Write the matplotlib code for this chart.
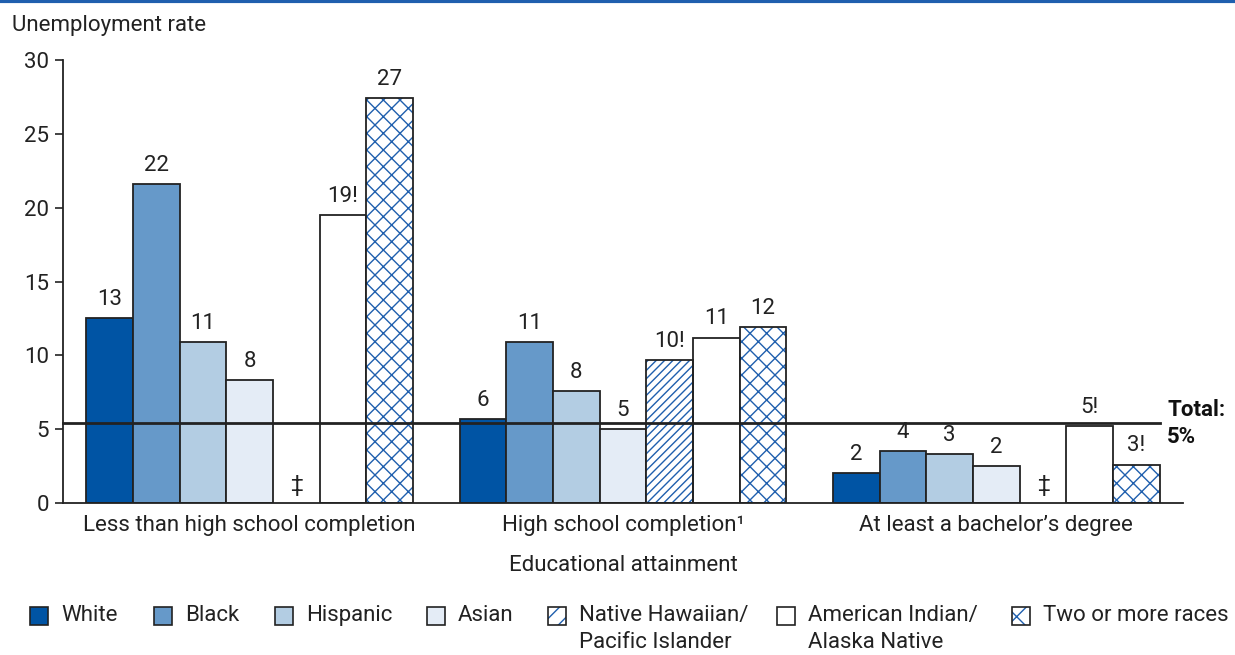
import matplotlib
matplotlib.use("Agg")
import matplotlib.pyplot as plt
from matplotlib.patches import Rectangle
import numpy as np

plt.rcParams['font.family'] = ['Roboto', 'DejaVu Sans']
plt.rcParams['hatch.linewidth'] = 1.0

groups = ["Less than high school completion", "High school completion\u00b9", "At least a bachelor\u2019s degree"]
races = ["White", "Black", "Hispanic", "Asian", "Native Hawaiian/\nPacific Islander",
         "American Indian/\nAlaska Native", "Two or more races"]
values = [
    [12.5, 21.6, 10.9, 8.3, None, 19.5, 27.4],
    [5.7, 10.9, 7.6, 5.0, 9.7, 11.2, 11.9],
    [2.0, 3.5, 3.3, 2.5, None, 5.2, 2.6],
]
labels = [
    ["13", "22", "11", "8", "\u2021", "19!", "27"],
    ["6", "11", "8", "5", "10!", "11", "12"],
    ["2", "4", "3", "2", "\u2021", "5!", "3!"],
]
total = 5.4
blue = "#1f5fae"
ink = "#222222"
facecolors = ["#0054a4", "#6699c9", "#b3cde3", "#e4ecf6", "white", "white", "white"]
hatches = [None, None, None, None, "////", None, "xx"]
FS = 16

fig = plt.figure(figsize=(12.35, 6.55), dpi=100)
ax = fig.add_axes([63/1235, 1-503/655, (1183-63)/1235, (503-60)/655])

nb = len(races)
for g, (vals, labs) in enumerate(zip(values, labels)):
    for i in range(nb):
        x = g * (nb + 1) + i + 0.5
        v = vals[i]
        if v is not None:
            if hatches[i]:
                ax.bar(x, v, width=1.0, color="white", edgecolor=blue, linewidth=0,
                       hatch=hatches[i], zorder=2)
                ax.bar(x, v, width=1.0, color="none", edgecolor=ink,
                       linewidth=1.3, zorder=3)
            else:
                ax.bar(x, v, width=1.0, color=facecolors[i], edgecolor=ink,
                       linewidth=1.3, zorder=2)
            ax.text(x, v + 0.55, labs[i], ha="center", va="bottom", fontsize=FS, color=ink)
        else:
            ax.text(x, 0.5, labs[i], ha="center", va="bottom", fontsize=FS, color=ink)

xmax = 3 * (nb + 1) - 0.5
ax.plot([-0.5, xmax - 0.5], [total, total], color=ink, linewidth=2, zorder=4, clip_on=False)
ax.set_xlim(-0.5, xmax)
ax.set_ylim(0, 30)
ax.set_yticks(range(0, 31, 5))
ax.tick_params(axis="y", labelsize=FS, length=6, width=1.2, color=ink, pad=4, labelcolor=ink)
ax.set_xticks([g * (nb + 1) + nb / 2 for g in range(3)])
ax.set_xticklabels(groups, fontsize=FS, color=ink)
ax.tick_params(axis="x", length=0, pad=9)
for s in ["top", "right"]:
    ax.spines[s].set_visible(False)
for s in ["left", "bottom"]:
    ax.spines[s].set_linewidth(1.3)
    ax.spines[s].set_color(ink)
ax.set_xlabel("Educational attainment", fontsize=FS, color=ink, labelpad=13)

fig.text(12/1235, 1-25/655, "Unemployment rate", fontsize=FS, va="center", ha="left", color=ink)
fig.text(1167/1235, 1-410/655, "Total:", fontsize=FS, fontweight="bold", va="center", ha="left", color="#111111")
fig.text(1167/1235, 1-437/655, "5%", fontsize=FS, fontweight="bold", va="center", ha="left", color="#111111")

# top rule
fig.add_artist(plt.Line2D([0, 1], [1 - 1/655, 1 - 1/655], color=blue, linewidth=3, transform=fig.transFigure))

# legend
leg_x = [30, 154, 275, 427, 548, 777, 1012]
for i in range(nb):
    x0 = leg_x[i] / 1235
    y0 = 1 - 625 / 655
    w = 18 / 1235
    h = 18 / 655
    if hatches[i]:
        fig.add_artist(Rectangle((x0, y0), w, h, transform=fig.transFigure,
                                 facecolor="white", edgecolor=blue, linewidth=0,
                                 hatch="//" if hatches[i] == "////" else "x"))
        fig.add_artist(Rectangle((x0, y0), w, h, transform=fig.transFigure,
                                 facecolor="none", edgecolor=ink, linewidth=1.2))
    else:
        fig.add_artist(Rectangle((x0, y0), w, h, transform=fig.transFigure,
                                 facecolor=facecolors[i], edgecolor=ink, linewidth=1.2))
    fig.text((leg_x[i] + 31) / 1235, 1 - 605 / 655, races[i], fontsize=FS, va="top", ha="left",
             color=ink, linespacing=1.35)

fig.savefig("out.png", dpi=100)
